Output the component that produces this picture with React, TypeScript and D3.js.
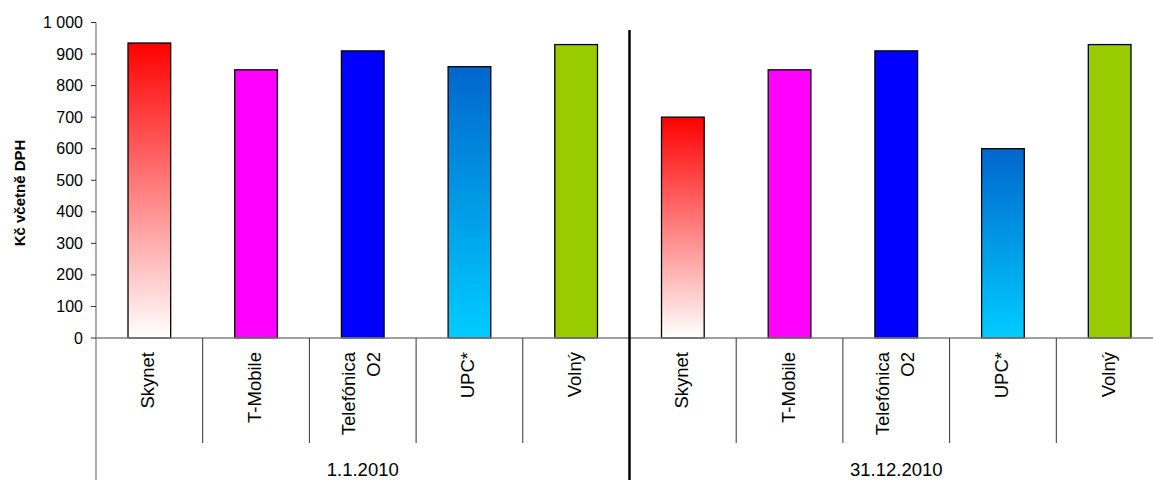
import React from "react";
import * as d3 from "d3";

const groups = ["1.1.2010", "31.12.2010"];
const operators = ["Skynet", "T-Mobile", "Telefónica O2", "UPC*", "Volný"];
const valuesJan = [935, 850, 910, 860, 930];
const valuesDec = [700, 850, 910, 600, 930];
const yTicks = [0, 100, 200, 300, 400, 500, 600, 700, 800, 900, 1000];
const yTitle = "Kč včetně DPH";

const fills: Record<string, string> = {
  "Skynet": "url(#gradRed)",
  "T-Mobile": "#FF00FF",
  "Telefónica O2": "#0000FF",
  "UPC*": "url(#gradBlue)",
  "Volný": "#99CC00",
};

const W = 1153;
const H = 480;
const left = 96;
const right = 1163;
const y0 = 338;
const yTop = 22.5;

const fmt = (v: number) => {
  const s = String(v);
  return s.length > 3 ? s.slice(0, s.length - 3) + " " + s.slice(-3) : s;
};

export default function App() {
  const rows = [valuesJan, valuesDec].flatMap((vals, gi) =>
    operators.map((op, i) => ({ key: gi + "|" + op, group: groups[gi], op, value: vals[i] }))
  );
  const x = d3
    .scaleBand<string>()
    .domain(rows.map((r) => r.key))
    .range([left, right])
    .paddingInner(0.6)
    .paddingOuter(0.3);
  const y = d3.scaleLinear().domain([0, 1000]).range([y0, yTop]);
  const step = x.step();
  const font = "Arial, 'Liberation Sans', sans-serif";

  return (
    <svg width={W} height={H} style={{ position: "absolute", left: 0, top: 0, background: "#fff" }}>
      <defs>
        <linearGradient id="gradRed" x1="0" y1="0" x2="0" y2="1">
          <stop offset="0" stopColor="#FF0000" />
          <stop offset="1" stopColor="#FFFFFF" />
        </linearGradient>
        <linearGradient id="gradBlue" x1="0" y1="0" x2="0" y2="1">
          <stop offset="0" stopColor="#0066CC" />
          <stop offset="1" stopColor="#00CCFF" />
        </linearGradient>
      </defs>

      {/* bars */}
      {rows.map((r) => (
        <rect
          key={r.key}
          x={x(r.key)!}
          y={y(r.value)}
          width={x.bandwidth()}
          height={y0 - y(r.value)}
          fill={fills[r.op]}
          stroke="#000"
          strokeWidth={1.3}
        />
      ))}

      {/* y axis */}
      <line x1={left} x2={left} y1={yTop} y2={H} stroke="#808080" strokeWidth={1.3} />
      {yTicks.map((t) => (
        <g key={t}>
          <line x1={left - 5} x2={left} y1={y(t)} y2={y(t)} stroke="#333" strokeWidth={1} />
          <text
            x={83}
            y={y(t)}
            textAnchor="end"
            dominantBaseline="central"
            fontFamily={font}
            fontSize={16}
            fill="#000"
          >
            {fmt(t)}
          </text>
        </g>
      ))}
      <text
        transform={`translate(19,${193}) rotate(-90)`}
        textAnchor="middle"
        dominantBaseline="central"
        fontFamily={font}
        fontSize={15}
        fontWeight="bold"
        fill="#000"
      >
        {yTitle}
      </text>

      {/* x axis */}
      <line x1={left} x2={right} y1={y0} y2={y0} stroke="#808080" strokeWidth={1.3} />
      {rows.map((r, i) => {
        const bx = x(r.key)! - (step - x.bandwidth()) / 2 + step;
        const isGroupEnd = (i + 1) % operators.length === 0;
        if (isGroupEnd) return null;
        return <line key={"sep" + r.key} x1={bx} x2={bx} y1={y0} y2={443} stroke="#333" strokeWidth={1} />;
      })}

      {/* category labels */}
      {rows.map((r) => {
        const cx = x(r.key)! + x.bandwidth() / 2;
        const lines = r.op === "Telefónica O2" ? ["Telefónica", "O2"] : [r.op];
        const gap = 25;
        return lines.map((ln, li) => {
          const off = (li - (lines.length - 1) / 2) * gap;
          const lx = cx - 1.5 + off;
          return (
            <text
              key={r.key + li}
              transform={`translate(${lx},352) rotate(-90)`}
              textAnchor="end"
              dominantBaseline="central"
              fontFamily={font}
              fontSize={18.5}
              fill="#000"
            >
              {ln}
            </text>
          );
        });
      })}

      {/* group labels & divider */}
      {groups.map((g, gi) => {
        const keys = rows.filter((r) => r.group === g).map((r) => r.key);
        const start = x(keys[0])! - (step - x.bandwidth()) / 2;
        const end = start + step * keys.length;
        return (
          <text
            key={g}
            x={(start + end) / 2}
            y={469}
            textAnchor="middle"
            dominantBaseline="central"
            fontFamily={font}
            fontSize={18.5}
            fill="#000"
          >
            {g}
          </text>
        );
      })}
      {(() => {
        const k = rows[operators.length].key;
        const dx = x(k)! - (step - x.bandwidth()) / 2;
        return <line x1={dx} x2={dx} y1={30} y2={H} stroke="#000" strokeWidth={2.5} />;
      })()}
    </svg>
  );
}
